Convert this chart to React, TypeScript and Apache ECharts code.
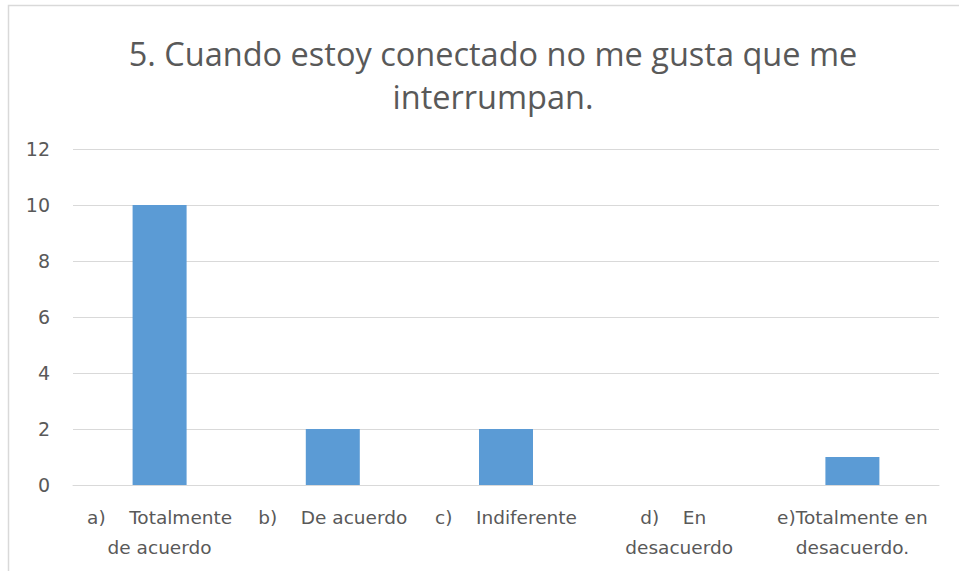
import React, { useEffect, useRef } from "react";
import * as echarts from "echarts";

const TITLE = "5. Cuando estoy conectado no me gusta que me\ninterrumpan.";
const categories = [
  "a)    Totalmente\nde acuerdo",
  "b)    De acuerdo",
  "c)    Indiferente",
  "d)    En  \ndesacuerdo",
  "e)Totalmente en\ndesacuerdo.",
];
const values = [10, 2, 2, 0, 1];
const yTicks = { min: 0, max: 12, interval: 2 };

export default function App() {
  const ref = useRef<HTMLDivElement>(null);
  useEffect(() => {
    if (!ref.current) return;
    const chart = echarts.init(ref.current, undefined, { renderer: "svg" });
    const titleFont = "Open Sans";
    const font = "DejaVu Sans";
    chart.setOption({
      animation: false,
      backgroundColor: "#ffffff",
      title: {
        text: TITLE,
        left: 488,
        top: 27,
        textAlign: "center",
        textStyle: {
          fontFamily: titleFont,
          fontSize: 32.5,
          fontWeight: "normal",
          color: "#595959",
          lineHeight: 43,
        },
      },
      graphic: [
        {
          type: "rect",
          shape: { x: 8.5, y: 5.5, width: 1000, height: 700 },
          style: { fill: "none", stroke: "#D9D9D9", lineWidth: 1.5 },
          silent: true,
        },
      ],
      grid: { left: 73, right: 20, top: 149, bottom: 86, containLabel: false },
      xAxis: {
        type: "category",
        data: categories,
        axisTick: { show: false },
        axisLine: { lineStyle: { color: "#D9D9D9", width: 1 } },
        axisLabel: {
          interval: 0,
          color: "#595959",
          fontFamily: font,
          fontSize: 18.5,
          lineHeight: 30,
          margin: 17,
        },
      },
      yAxis: {
        type: "value",
        min: yTicks.min,
        max: yTicks.max,
        interval: yTicks.interval,
        axisLine: { show: false },
        axisTick: { show: false },
        splitLine: { lineStyle: { color: "#D9D9D9", width: 1 } },
        axisLabel: {
          color: "#595959",
          fontFamily: font,
          fontSize: 19,
          margin: 23,
        },
      },
      series: [
        {
          type: "bar",
          data: values,
          barWidth: 54,
          itemStyle: { color: "#5B9BD5" },
        },
      ],
    });
    return () => chart.dispose();
  }, []);
  return (
    <div
      ref={ref}
      style={{ position: "fixed", left: 0, top: 0, width: 959, height: 571 }}
    />
  );
}
